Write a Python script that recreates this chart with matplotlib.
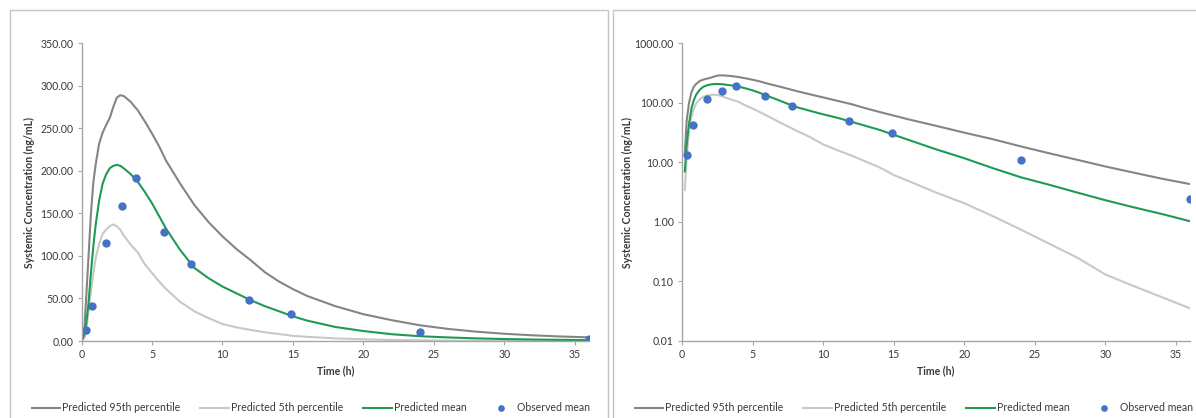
import matplotlib
matplotlib.use("Agg")
import matplotlib.pyplot as plt
from matplotlib.patches import Rectangle

plt.rcParams['font.family'] = ['Lato', 'DejaVu Sans']

# predicted profiles (time in h, concentration in ng/mL)
t_pred = [0, 0.2, 0.33, 0.5, 0.67, 0.83, 1.0, 1.25, 1.5, 1.75, 2.0, 2.25, 2.5, 2.75,
          3.0, 3.5, 4.0, 4.5, 5, 5.5, 6, 7, 8, 9, 10, 11, 12, 13, 14, 15, 16,
          18, 20, 22, 24, 26, 28, 30, 32, 34, 36]
p95 = [0, 14, 50, 100, 150, 185, 207, 232, 245, 254, 262, 275, 286, 289,
       288, 281, 271, 258, 244, 229, 212, 185, 160, 140, 123, 108, 95, 81, 70, 61, 53,
       41, 31.5, 24.5, 18.5, 14.2, 11, 8.5, 6.7, 5.3, 4.3]
p5 = [0, 3.4, 12, 35, 58, 78, 97, 114, 126, 131, 135, 137, 135, 131,
      124, 113, 104, 90, 80, 70, 61, 46, 35, 27, 20, 16, 13, 10.3, 8.2, 6.1, 4.9,
      3.1, 2.05, 1.25, 0.74, 0.43, 0.25, 0.13, 0.083, 0.054, 0.035]
mean = [0, 7, 20, 45, 80, 110, 136, 165, 185, 196, 203, 206, 207, 206,
        203, 196, 187, 175, 162, 147, 132, 107, 86, 74, 64, 56, 48, 41, 35, 29, 24,
        16.5, 11.7, 8, 5.6, 4.2, 3.1, 2.3, 1.75, 1.35, 1.02]

# observed means
t_obs = [0.35, 0.75, 1.75, 2.85, 3.85, 5.85, 7.8, 11.85, 14.85, 24, 36]
c_obs = [13.3, 41.5, 115, 158.6, 192, 128.4, 90, 48.5, 31.4, 11, 2.4]

W, H = 1196, 418
fig = plt.figure(figsize=(W / 100, H / 100), dpi=100)

txt = '#3a3a3a'
axc = '#a6a6a6'
fs = 7.6

# panel frames
for x0 in (10, 613):
    fig.add_artist(Rectangle((x0 / W, -0.05), 598 / W, 1.05 - 10 / H,
                             transform=fig.transFigure, fill=False,
                             edgecolor='#c4c4c4', lw=1.0, clip_on=False))

ax1 = fig.add_axes([81.5 / W, 1 - 341 / H, (589 - 81.5) / W, (341 - 43.3) / H])
ax2 = fig.add_axes([682 / W, 1 - 340.7 / H, (1190 - 682) / W, (340.7 - 43.3) / H])


def draw(ax, log):
    s = slice(1, None) if log else slice(None)
    ax.plot(t_pred[s], p95[s], color='#858585', lw=1.5, label='Predicted 95th percentile')
    ax.plot(t_pred[s], p5[s], color='#c8c8c8', lw=1.5, label='Predicted 5th percentile')
    ax.plot(t_pred[s], mean[s], color='#1f9a55', lw=1.5, label='Predicted mean')
    ax.plot(t_obs, c_obs, 'o', color='#4472c4', ms=6, mec='none', label='Observed mean')
    ax.set_xlim(0, 36)
    ax.set_xticks(range(0, 36, 5))
    for sp in ('top', 'right'):
        ax.spines[sp].set_visible(False)
    for sp in ('left', 'bottom'):
        ax.spines[sp].set_color(axc)
        ax.spines[sp].set_linewidth(1.0)
    ax.tick_params(colors=axc, labelcolor=txt, labelsize=fs, length=3, width=0.8, pad=3)
    ax.set_xlabel('Time (h)', fontsize=fs, fontweight='bold', color=txt)
    ax.set_ylabel('Systemic Concentration (ng/mL)', fontsize=fs, fontweight='bold', color=txt)
    ax.xaxis.set_label_coords(0.5, -0.10)
    ax.xaxis.label.set_va('center')
    ax.legend(loc='center', bbox_to_anchor=(0.5, 0.024), bbox_transform=fig.transFigure,
              ncol=4, frameon=False, fontsize=fs, handlelength=2.7, handletextpad=0.2,
              columnspacing=1.9, markerscale=0.8, labelcolor=txt)


draw(ax1, False)
ax1.set_ylim(0, 350)
ax1.set_yticks(range(0, 351, 50))
ax1.set_yticklabels(['%.2f' % v for v in range(0, 351, 50)])
ax1.yaxis.set_label_coords(-0.092, 0.5)
ax1.get_legend().set_bbox_to_anchor((311 / W, 0.024), transform=fig.transFigure)

draw(ax2, True)
ax2.set_yscale('log', nonpositive='mask')
ax2.set_ylim(0.01, 1000)
ticks = [0.01, 0.1, 1, 10, 100, 1000]
ax2.set_yticks(ticks)
ax2.set_yticklabels(['%.2f' % v for v in ticks])
ax2.minorticks_off()
ax2.tick_params(axis='y', which='minor', length=0)
ax2.yaxis.set_label_coords(-0.097, 0.5)
ax2.get_legend().set_bbox_to_anchor((914 / W, 0.024), transform=fig.transFigure)

fig.savefig('out.png', dpi=100)
